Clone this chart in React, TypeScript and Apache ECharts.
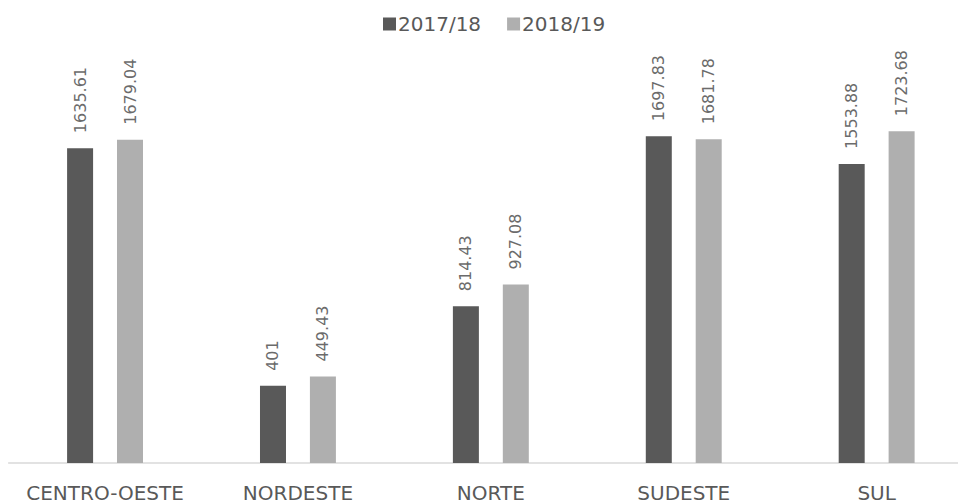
import React, { useEffect, useRef } from "react";
import * as echarts from "echarts";

const categories = ["CENTRO-OESTE", "NORDESTE", "NORTE", "SUDESTE", "SUL"];
const series2017 = [1635.61, 401, 814.43, 1697.83, 1553.88];
const series2018 = [1679.04, 449.43, 927.08, 1681.78, 1723.68];
const seriesNames = ["2017/18", "2018/19"];

export default function App() {
  const ref = useRef<HTMLDivElement>(null);
  useEffect(() => {
    if (!ref.current) return;
    const chart = echarts.init(ref.current, null, { renderer: "svg" });
    const labelCfg = {
      show: true,
      position: "top",
      rotate: 90,
      align: "left",
      verticalAlign: "middle",
      distance: 15,
      color: "#6b6b6b",
      fontFamily: "DejaVu Sans",
      fontSize: 16,
    };
    chart.setOption({
      animation: false,
      backgroundColor: "#ffffff",
      legend: {
        top: 9,
        left: 378,
        itemWidth: 13,
        itemHeight: 13,
        itemGap: 26,
        icon: "rect",
        textStyle: {
          color: "#595959",
          fontFamily: "DejaVu Sans",
          fontSize: 20,
          padding: [0, 0, 0, -3],
        },
        data: seriesNames,
      },
      grid: { left: 8.6, width: 964.5, top: 78, bottom: 41 },
      xAxis: {
        type: "category",
        data: categories,
        axisLine: { lineStyle: { color: "#d9d9d9", width: 1.5 } },
        axisTick: { show: false },
        axisLabel: {
          color: "#595959",
          fontFamily: "DejaVu Sans",
          fontSize: 20,
          lineHeight: 20,
          margin: 20,
          interval: 0,
        },
      },
      yAxis: {
        type: "value",
        min: 0,
        max: 2000,
        show: false,
        splitLine: { show: false },
      },
      series: [
        {
          name: seriesNames[0],
          type: "bar",
          data: series2017,
          barWidth: 26,
          barGap: "92%",
          itemStyle: { color: "#595959" },
          label: labelCfg,
        },
        {
          name: seriesNames[1],
          type: "bar",
          data: series2018,
          barWidth: 26,
          itemStyle: { color: "#afafaf" },
          label: labelCfg,
        },
      ],
    });
    return () => chart.dispose();
  }, []);
  return (
    <div
      style={{
        position: "fixed",
        left: 0,
        top: 0,
        width: 958,
        height: 504,
        overflow: "hidden",
        background: "#ffffff",
      }}
    >
      <div ref={ref} style={{ width: 990, height: 504 }} />
    </div>
  );
}
